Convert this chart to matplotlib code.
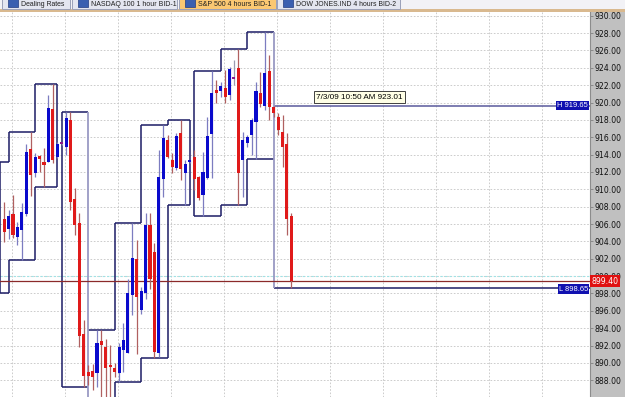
import numpy as np
import matplotlib
matplotlib.use("Agg")
from matplotlib import pyplot as plt
from matplotlib.patches import Rectangle
import matplotlib.transforms as mtransforms

# 4 hour bars, S&P 500
opens = [906.58, 905.39, 907.15, 904.50, 905.31, 907.15, 914.64, 911.84, 913.87, 913.18,
         913.15, 919.25, 913.72, 915.30, 914.87, 917.98, 908.88, 906.15, 893.33, 888.95,
         889.07, 888.80, 892.56, 891.87, 889.60, 889.38, 888.80, 891.49, 891.11, 897.82,
         901.97, 896.10, 898.09, 905.89, 902.81, 891.11, 911.15, 915.68, 913.38, 912.42,
         916.45, 911.84, 913.15, 913.69, 911.38, 909.34, 911.27, 916.37, 921.44, 921.36,
         921.64, 920.86, 922.80, 923.94, 913.38, 915.37, 916.26, 917.79, 921.13, 919.60,
         923.66, 919.52, 918.36, 916.64, 915.22, 906.92]
highs = [908.54, 907.62, 909.34, 906.23, 908.42, 915.22, 916.64, 914.18, 913.95, 914.76,
         920.86, 922.13, 915.45, 915.45, 918.94, 918.94, 910.15, 907.27, 894.94, 889.76,
         889.90, 893.79, 893.79, 892.80, 892.06, 889.99, 892.29, 894.60, 899.67, 906.15,
         904.16, 898.70, 907.30, 907.30, 903.81, 914.53, 917.41, 916.26, 914.18, 916.50,
         917.98, 913.38, 913.40, 914.53, 911.53, 914.33, 918.36, 923.66, 922.59, 922.40,
         923.74, 924.12, 924.90, 926.16, 916.64, 916.30, 918.21, 922.40, 923.55, 928.16,
         925.47, 919.65, 918.79, 918.55, 916.45, 907.27]
lows = [903.93, 904.27, 904.39, 903.58, 901.86, 906.90, 909.23, 911.45, 912.03, 910.30,
        913.10, 913.06, 913.60, 915.14, 913.95, 907.62, 904.74, 891.87, 887.26, 887.50,
        886.90, 887.26, 885.60, 886.11, 886.11, 888.38, 887.83, 889.00, 891.11, 895.52,
        891.03, 895.60, 897.33, 898.50, 890.53, 890.71, 909.15, 913.61, 911.84, 912.20,
        911.07, 908.19, 913.00, 909.90, 908.80, 906.92, 911.20, 911.27, 919.94, 920.67,
        919.94, 920.29, 922.00, 908.19, 909.15, 914.90, 913.95, 913.46, 919.52, 919.14,
        917.98, 918.36, 916.26, 912.60, 904.74, 898.65]
closes = [905.05, 906.92, 904.74, 905.66, 907.39, 914.30, 911.65, 913.76, 913.46, 912.80,
          919.37, 913.38, 915.22, 915.30, 918.21, 908.57, 905.89, 893.10, 888.49, 888.49,
          888.38, 892.33, 892.06, 889.38, 889.50, 888.99, 891.87, 892.60, 898.09, 902.09,
          897.63, 898.30, 905.89, 899.63, 891.29, 911.45, 915.88, 913.69, 912.60, 916.14,
          912.30, 912.91, 913.20, 911.15, 908.96, 912.03, 916.14, 921.13, 921.13, 921.90,
          920.67, 923.82, 922.80, 911.84, 915.68, 915.99, 917.98, 921.36, 919.83, 923.43,
          919.52, 918.76, 916.83, 914.91, 906.54, 899.40]

# box indicator: bar where each box starts / ends, its high and low
box_start = [-1, 1, 7, 13, 19, 25, 31, 37, 43, 49, 55, 61]
box_end = [1, 7, 12, 19, 25, 31, 37, 42, 49, 55, 61, 140]
box_high = [913.18, 916.64, 922.13, 918.94, 893.79, 906.15, 917.41, 917.98, 923.66, 926.16, 928.16, 919.65]
box_low = [898.09, 901.86, 910.30, 887.26, 885.50, 887.83, 890.53, 908.19, 906.92, 908.19, 913.46, 898.65]

last_price = 899.40
cursor_text = "7/3/09 10:50 AM 923.01"
tabs = ["Dealing Rates", "NASDAQ 100 1 hour BID-1", "S&P 500 4 hours BID-1", "DOW JONES.IND 4 hours BID-2"]

NAVY = "#1c1c66"
LIGHT = "#9a9ac4"

fig = plt.figure(figsize=(6.25, 3.97), dpi=100)
fig.patch.set_facecolor("white")
ax = fig.add_axes([0, 0, 590 / 625, 1 - 12 / 397])

# grey price panel on the right
fig.patches.append(Rectangle((590 / 625, 0), 35 / 625, 1 - 12 / 397, transform=fig.transFigure,
                             facecolor="#c0c0c0", edgecolor="none", zorder=-5))

ax.set_xlim(-0.95, 132.6)
ax.set_ylim(886.07, 930.43)

# grid
ax.set_xticks(np.arange(1.77, 133, 12))
ax.set_xticklabels([])
ax.set_yticks(np.arange(888, 931, 2))
ax.yaxis.tick_right()
ax.yaxis.set_major_formatter(matplotlib.ticker.FormatStrFormatter("%.2f"))
ax.tick_params(axis="x", length=0)
ax.tick_params(axis="y", labelsize=5.6, length=2, width=0.6, pad=1.2, color="#808080", labelcolor="#111111")
ax.grid(True, linestyle=(0, (2, 2)), color="#c4c4c4", linewidth=0.6)
ax.set_axisbelow(True)
for s in ["top", "left", "bottom"]:
    ax.spines[s].set_visible(False)
ax.spines["right"].set_color("#8c8c8c")
ax.spines["right"].set_linewidth(0.8)
ax.axhline(900, color="#9fe3e6", linestyle=(0, (2, 2)), linewidth=0.8, zorder=1)

# boxes
n_box = len(box_start)
for k in range(n_box):
    x0, x1 = box_start[k], box_end[k]
    top_col = NAVY if k < n_box - 1 else "#5a5a9c"
    ax.hlines(box_high[k], x0, x1, color=top_col, linewidth=1.1, zorder=2)
    ax.hlines(box_low[k], x0, x1, color=NAVY, linewidth=1.1, zorder=2)
    joined = k > 0 and box_start[k] == box_end[k - 1]
    if joined:
        if box_high[k] < box_high[k - 1]:
            # break down: light edge over whole height
            ax.vlines(x0, min(box_low[k], box_low[k - 1]), box_high[k - 1], color=LIGHT, linewidth=1.3, zorder=2)
        else:
            ax.vlines(x0, box_high[k - 1], box_high[k], color=NAVY, linewidth=1.1, zorder=2)
            ax.vlines(x0, box_low[k - 1], box_low[k], color=NAVY, linewidth=1.1, zorder=2)
    else:
        ax.vlines(x0, box_low[k], box_high[k], color=NAVY, linewidth=1.1, zorder=2)
    if k < n_box - 1 and box_start[k + 1] != x1:
        ax.vlines(x1, box_low[k], box_high[k], color=NAVY, linewidth=1.1, zorder=2)

# candles
x = np.arange(len(opens))
o = np.array(opens)
c = np.array(closes)
hi = np.array(highs)
lo = np.array(lows)
up = c > o
dn = c < o
eq = c == o
ax.vlines(x[up], lo[up], hi[up], color="#7c7cc0", linewidth=0.9, zorder=3)
ax.vlines(x[dn], lo[dn], hi[dn], color="#b06060", linewidth=0.9, zorder=3)
ax.vlines(x[eq], lo[eq], hi[eq], color="#9a9ab0", linewidth=0.9, zorder=3)
body_lo = np.minimum(o, c)
body_h = np.maximum(np.abs(c - o), 0.2)
ax.bar(x[up], body_h[up], bottom=body_lo[up], width=0.7, color="#0a0acc", zorder=4)
ax.bar(x[dn], body_h[dn], bottom=body_lo[dn], width=0.7, color="#e01a1a", zorder=4)
ax.bar(x[eq], body_h[eq], bottom=body_lo[eq] - 0.1, width=0.7, color="#8a1a8a", zorder=4)

# last price line and labels
ax.axhline(last_price, color="#8b2a2a", linewidth=0.9, zorder=2)
blend = mtransforms.blended_transform_factory(ax.transAxes, ax.transData)
ax.text(1.003, last_price, "%.2f" % last_price, transform=blend, ha="left", va="center",
        fontsize=5.6, color="white", clip_on=False, zorder=6,
        bbox=dict(boxstyle="square,pad=0.2", facecolor="#e01010", edgecolor="none"))
ax.text(0.997, box_high[-1], "H %.2f" % box_high[-1], transform=blend, ha="right", va="center",
        fontsize=5.4, family="Liberation Sans", color="white", zorder=6,
        bbox=dict(boxstyle="square,pad=0.15", facecolor="#1010b0", edgecolor="none"))
ax.text(0.997, box_low[-1] - 0.15, "L %.2f" % box_low[-1], transform=blend, ha="right", va="center",
        fontsize=5.4, family="Liberation Sans", color="white", zorder=6,
        bbox=dict(boxstyle="square,pad=0.15", facecolor="#1010b0", edgecolor="none"))

# cursor tooltip
ax.text(70.6, 920.6, cursor_text, ha="left", va="center", fontsize=5.9, family="Liberation Sans",
        color="black", zorder=7,
        bbox=dict(boxstyle="square,pad=0.3", facecolor="#ffffe6", edgecolor="#404040", linewidth=0.7))

# tab strip at the top
fig.patches.append(Rectangle((0, 1 - 9 / 397), 1, 9 / 397, transform=fig.transFigure,
                             facecolor="#f2f2f6", edgecolor="none", zorder=1))
fig.patches.append(Rectangle((0, 1 - 12 / 397), 1, 3 / 397, transform=fig.transFigure,
                             facecolor="#d9b98f", edgecolor="none", zorder=1))
tab_left = [2, 72, 179, 277]
tab_right = [70, 177, 276, 400]
text_width = [43, 84, 72, 100]
renderer = fig.canvas.get_renderer()
for i, name in enumerate(tabs):
    fc = "#fbc872" if i == 2 else "#e4e6f0"
    fig.patches.append(Rectangle((tab_left[i] / 625, 1 - 9 / 397), (tab_right[i] - tab_left[i]) / 625, 12 / 397,
                                 transform=fig.transFigure, facecolor=fc, edgecolor="#9aa0b8",
                                 linewidth=0.7, zorder=2))
    fig.patches.append(Rectangle(((tab_left[i] + 6) / 625, 1 - 7 / 397), 10 / 625, 9 / 397,
                                 transform=fig.transFigure, facecolor="#3a5fb0", edgecolor="#203a80",
                                 linewidth=0.5, zorder=3))
    t = fig.text((tab_left[i] + 19) / 625, 1 - 6.5 / 397, name, fontsize=7, family="Liberation Sans",
                 color="#202020", ha="left", va="baseline", zorder=4)
    w = t.get_window_extent(renderer).width
    t.set_fontsize(7 * text_width[i] / w)

fig.savefig("out.png", dpi=100)
